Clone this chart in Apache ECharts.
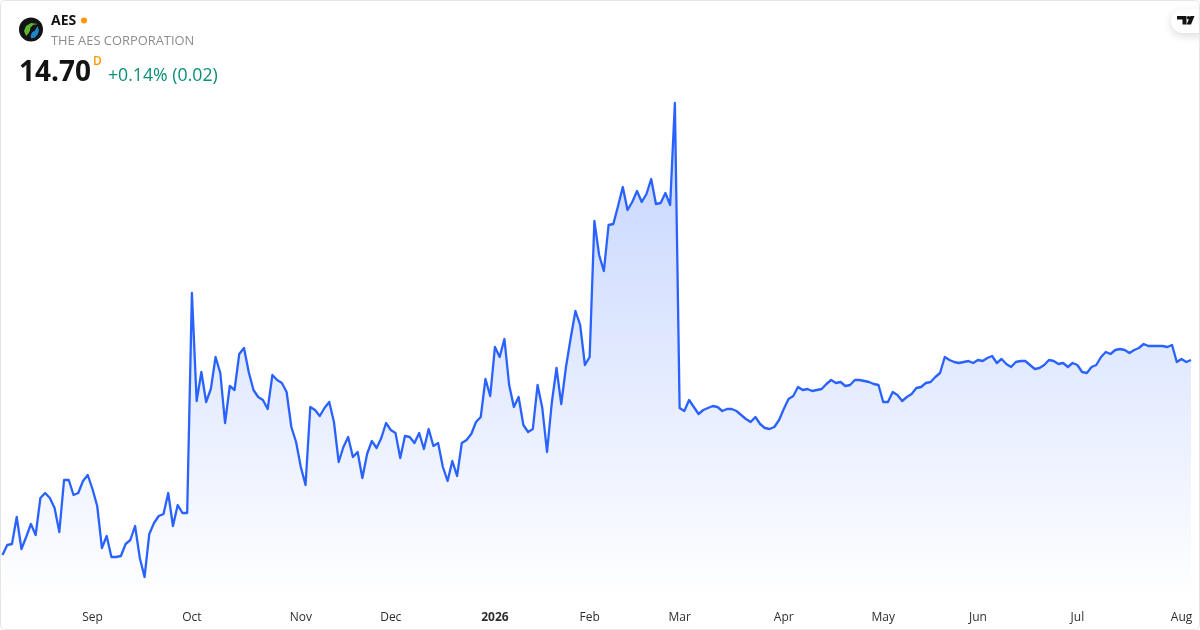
<!DOCTYPE html>
<html>
<head>
<meta charset="utf-8">
<script src="https://cdn.jsdelivr.net/npm/echarts@6/dist/echarts.min.js"></script>
<style>
html,body{margin:0;padding:0;background:#fff}
#c{width:1200px;height:630px}
</style>
</head>
<body>
<div id="c"></div>
<script>
const symbol = 'AES';
const companyName = 'THE AES CORPORATION';
const lastPrice = '14.70';
const changeText = '+0.14% (0.02)';
const intervalMark = 'D';

const tickIndex = [19, 40, 63, 82, 104, 124, 143, 165, 186, 206, 227, 249];
const tickLabels = ['Sep', 'Oct', 'Nov', 'Dec', '2026', 'Feb', 'Mar', 'Apr', 'May', 'Jun', 'Jul', 'Aug'];

const closesA = [12.75,12.85,12.86,13.13,12.81,12.93,13.06,12.95,13.32,13.37,13.32,13.22,12.98,13.50,13.50,13.35,13.37,13.49,13.55,13.41,13.24,12.82,12.94,12.73,12.73,12.74,12.86,12.90,13.04,12.72,12.53,12.96,13.07,13.14,13.16,13.37,13.04,13.25,13.17,13.17];
const closesB = [15.37,14.29,14.58,14.28,14.41,14.73,14.57,14.07,14.44,14.40,14.76,14.82,14.58,14.40,14.33,14.30,14.21,14.55,14.50,14.47,14.38,14.03,13.88,13.63,13.45,14.23,14.20,14.14,14.22,14.28,14.08,13.68,13.83,13.93,13.73,13.78,13.52,13.76,13.89,13.82,13.92,14.07,14.00,13.97,13.72,13.94,13.93,13.87,13.97,13.81,14.01,13.84,13.87,13.63,13.49,13.69,13.54,13.87,13.90,13.96];
const closesC = [14.08,14.13,14.51,14.34,14.83,14.73,14.91,14.45,14.23,14.33,14.05,13.98,14.01,14.45,14.22,13.78,14.27,14.62,14.26,14.63,14.92,15.19,15.05,14.65,14.73,16.09,15.75,15.59,16.05,16.06,16.24,16.43,16.20,16.28,16.39,16.28,16.36,16.51,16.26,16.27,16.37,16.25,17.27];
const closesD = [14.22,14.19,14.30,14.23,14.16,14.20,14.22,14.24,14.23,14.19,14.21,14.21,14.19,14.15,14.11,14.08,14.13,14.06,14.02,14.01,14.03,14.10,14.21,14.31,14.34,14.43,14.40,14.41,14.39,14.40,14.41,14.46,14.50,14.47,14.48,14.44,14.45,14.50,14.50,14.49,14.48,14.46,14.45,14.28,14.28,14.38,14.35,14.29,14.33,14.36,14.42,14.43,14.47];
const closesE = [14.48,14.53,14.57,14.73,14.70,14.68,14.67,14.68,14.69,14.67,14.70,14.69,14.72,14.74,14.67,14.71,14.66,14.63,14.68,14.69,14.69,14.65,14.61,14.62,14.65,14.70,14.69,14.66,14.67,14.63,14.67,14.65,14.58,14.57,14.63,14.65,14.73,14.78,14.76,14.80,14.81,14.80,14.77,14.80,14.82,14.86,14.84,14.84,14.84,14.84,14.83,14.85,14.68,14.71,14.68,14.70];

const closes = closesA.concat(closesB, closesC, closesD, closesE);
const categories = closes.map((_, i) => String(i));
const FONT = '"Open Sans", "Noto Sans", sans-serif';

const chart = echarts.init(document.getElementById('c'), null, {renderer: 'canvas'});
chart.setOption({
  animation: false,
  backgroundColor: '#ffffff',
  grid: {left: 2.5, width: 1188.5, top: 0, height: 600},
  xAxis: {
    type: 'category',
    data: categories,
    boundaryGap: false,
    axisLine: {show: false},
    axisTick: {show: false},
    splitLine: {show: false},
    axisLabel: {
      hideOverlap: false,
      interval: (i) => tickIndex.includes(i),
      margin: 12,
      color: '#2e2e2e',
      fontFamily: FONT,
      fontSize: 12,
      formatter: (v) => {
        const k = tickIndex.indexOf(Number(v));
        if (k < 0) return '';
        return tickLabels[k] === '2026' ? '{b|2026}' : tickLabels[k];
      },
      rich: {b: {fontWeight: 'bold', color: '#2e2e2e', fontFamily: FONT, fontSize: 12}}
    }
  },
  yAxis: {type: 'value', min: 12.30, max: 18.30, show: false},
  series: [{
    type: 'line',
    data: closes,
    symbol: 'none',
    smooth: false,
    lineStyle: {color: '#2962ff', width: 2.3, join: 'round'},
    areaStyle: {
      color: new echarts.graphic.LinearGradient(0, 0, 0, 1, [
        {offset: 0, color: 'rgba(41,98,255,0.4)'},
        {offset: 1, color: 'rgba(41,98,255,0)'}
      ])
    }
  }],
  graphic: [
    {type: 'rect', silent: true, z: 100, shape: {x: 0.5, y: 0.5, width: 1199, height: 629, r: 4}, style: {fill: 'none', stroke: '#e6e6e8', lineWidth: 1}},
    {type: 'circle', z: 50, shape: {cx: 31, cy: 29.5, r: 12}, style: {fill: '#131313'}},
    {type: 'polygon', z: 51, shape: {points: [[26,36],[24,31],[26,26],[31,23],[38,24],[33,25],[30.5,27.5],[30,30.5],[28.5,33.5]]}, style: {fill: '#5cb531'}},
    {type: 'polygon', z: 51, shape: {points: [[37.5,26],[39,30],[38,34],[35,37.5],[31.5,38.5],[30.5,36],[32,32.5],[35,30.5]]}, style: {fill: '#1c86c8'}},
    {type: 'text', z: 50, x: 51, y: 21.5, style: {text: symbol, fontFamily: FONT, fontSize: 14, fontWeight: 700, fill: '#131313', verticalAlign: 'middle'}},
    {type: 'circle', z: 50, shape: {cx: 84, cy: 20.5, r: 3}, style: {fill: '#ff9800'}},
    {type: 'text', z: 50, x: 51, y: 41.5, style: {text: companyName, fontFamily: FONT, fontSize: 12.9, fill: '#8c8c8c', verticalAlign: 'middle'}},
    {type: 'text', z: 50, x: 19, y: 73, style: {text: lastPrice, fontFamily: FONT, fontSize: 28, fontWeight: 700, fill: '#131313', verticalAlign: 'middle'}},
    {type: 'text', z: 50, x: 93, y: 62, style: {text: intervalMark, fontFamily: FONT, fontSize: 12, fontWeight: 600, fill: '#ff9800', verticalAlign: 'middle'}},
    {type: 'text', z: 50, x: 108, y: 76, style: {text: changeText, fontFamily: FONT, fontSize: 17.7, fill: '#0b8f78', verticalAlign: 'middle'}},
    {type: 'rect', z: 60, shape: {x: 1171, y: 9, width: 40, height: 24, r: 12}, style: {fill: '#fff', shadowBlur: 8, shadowColor: 'rgba(0,0,0,0.14)', shadowOffsetY: 3}},
    {type: 'rect', z: 99, shape: {x: 1200, y: 0, width: 20, height: 60}, style: {fill: '#fff'}},
    {type: 'polygon', z: 61, shape: {points: [[1177,16],[1186.5,16],[1186.5,24.5],[1182.5,24.5],[1182.5,19.5],[1177,19.5]]}, style: {fill: '#131313'}},
    {type: 'circle', z: 61, shape: {cx: 1188.6, cy: 17.8, r: 1.8}, style: {fill: '#131313'}},
    {type: 'polygon', z: 61, shape: {points: [[1190.5,16],[1194.5,16],[1191,24.5],[1186.5,24.5]]}, style: {fill: '#131313'}}
  ]
});
</script>
</body>
</html>
